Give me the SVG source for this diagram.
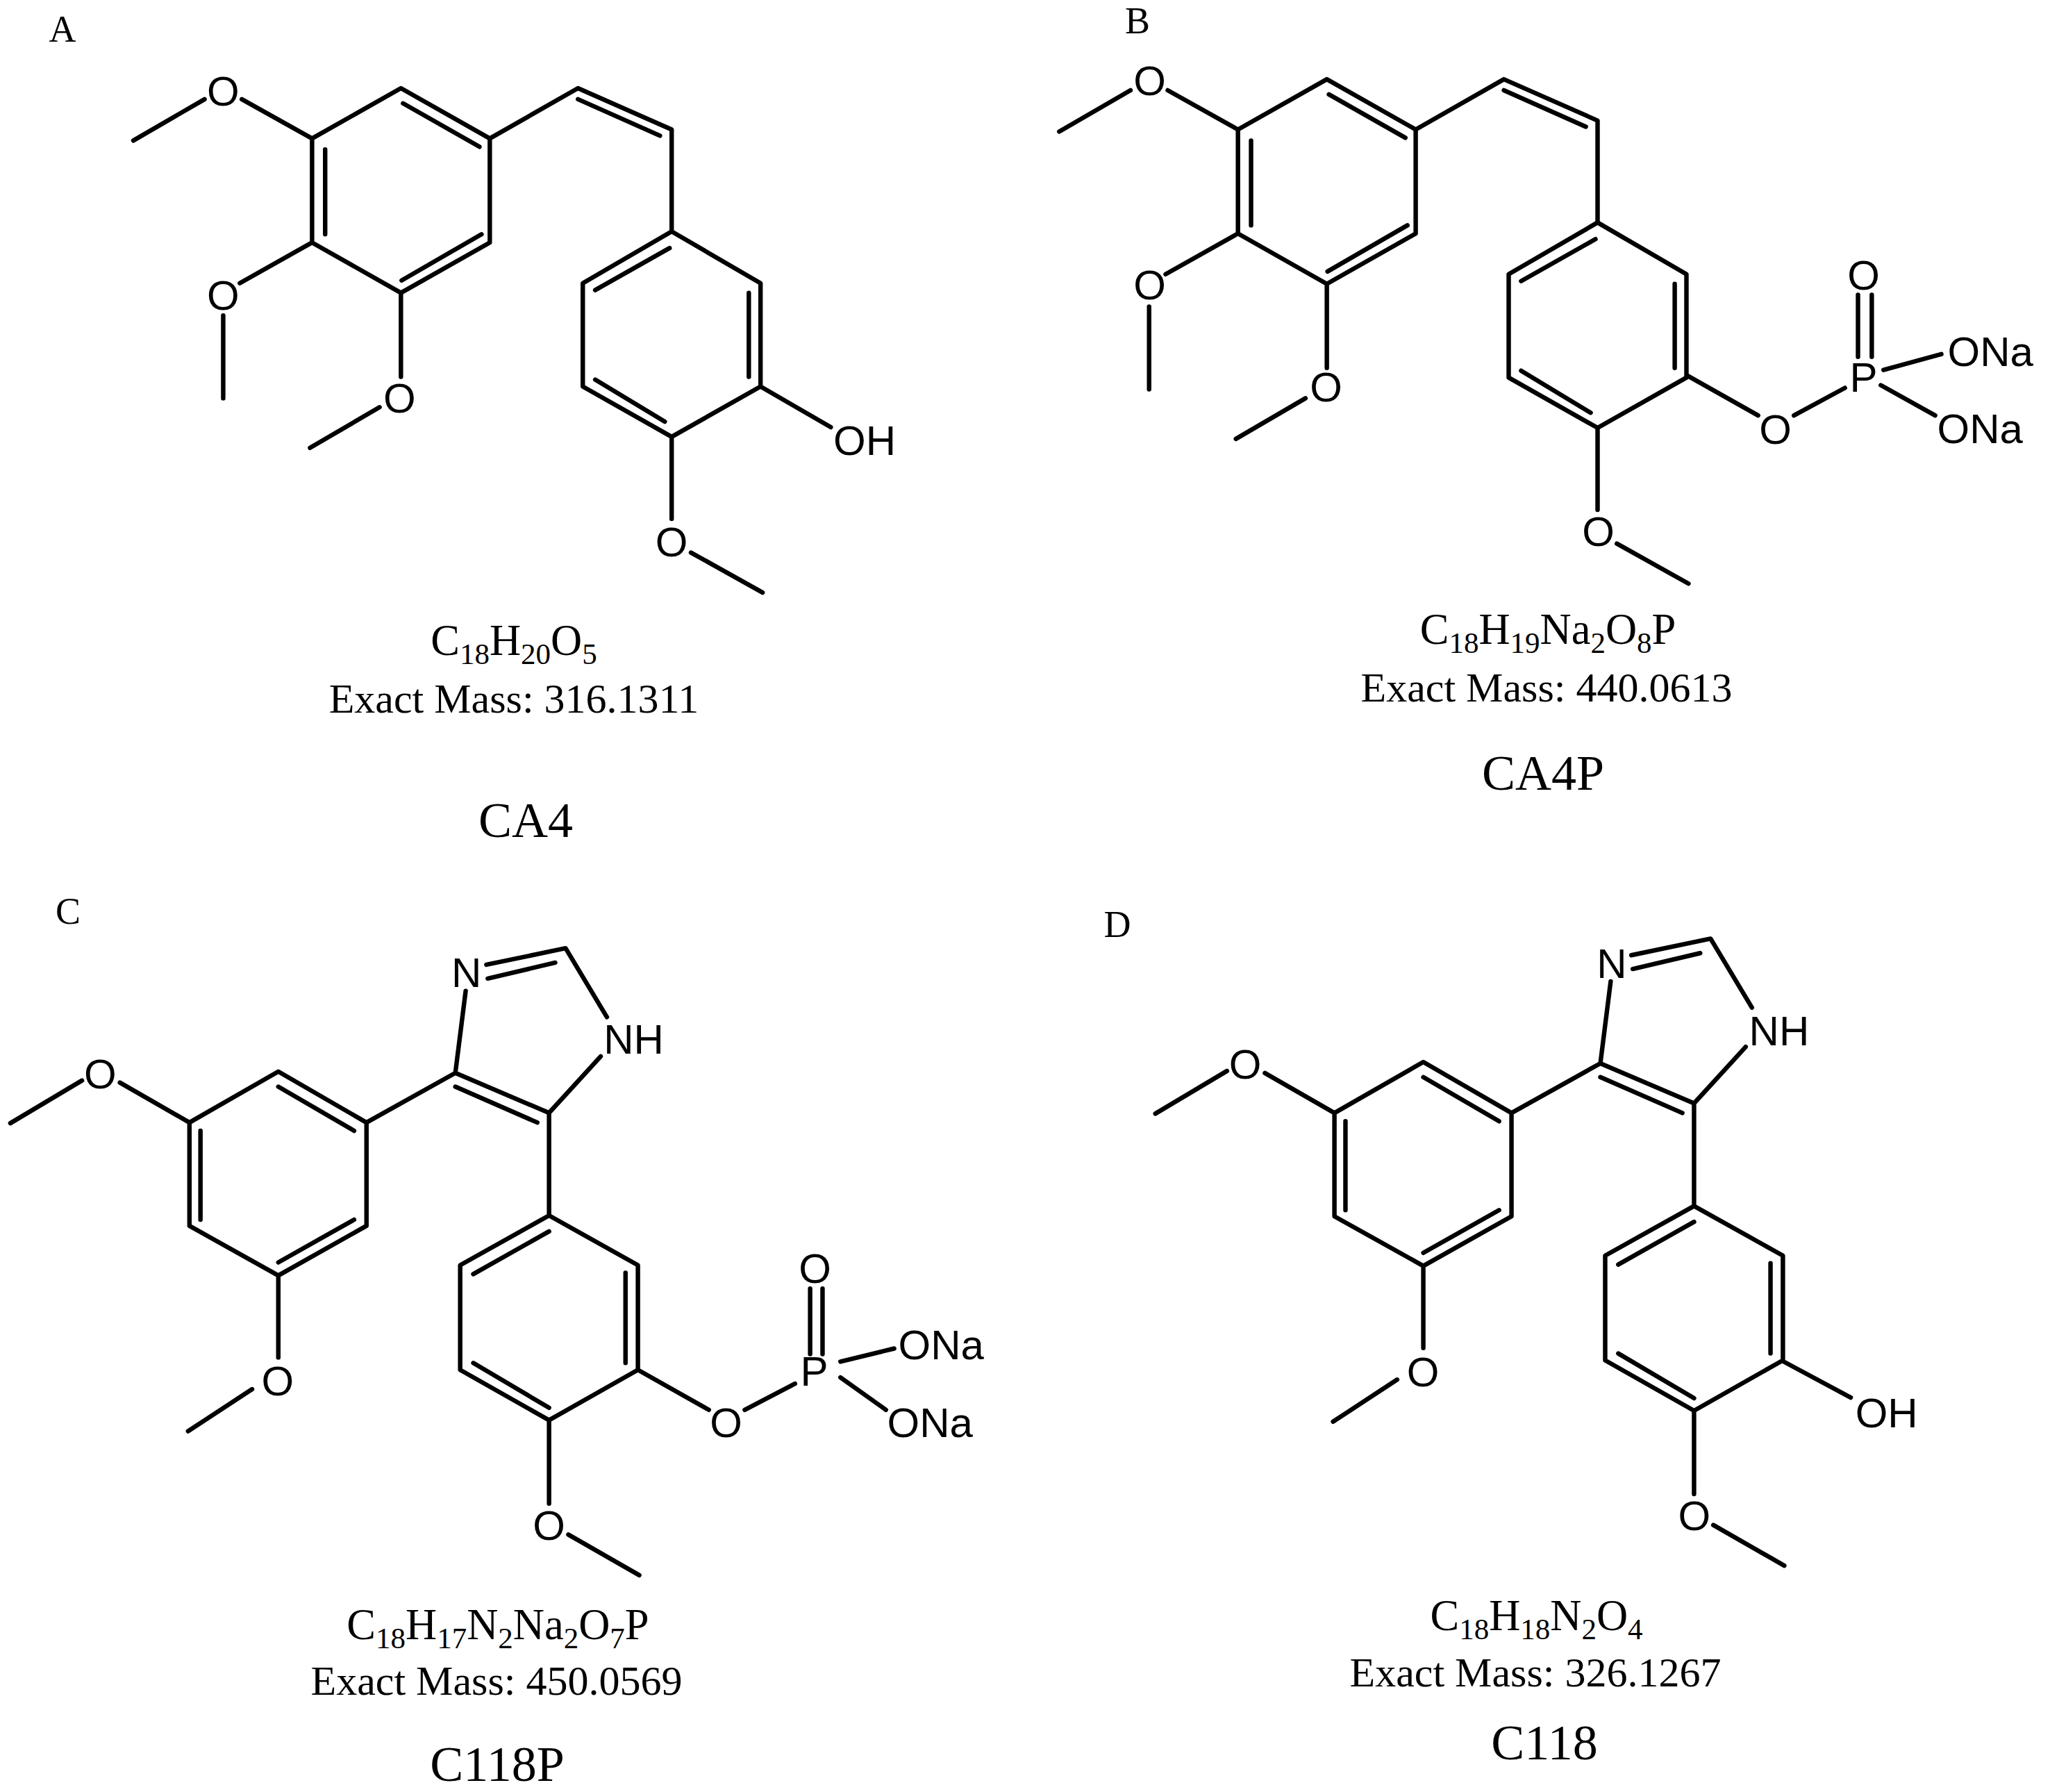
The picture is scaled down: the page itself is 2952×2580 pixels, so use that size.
<svg xmlns="http://www.w3.org/2000/svg" xmlns:xlink="http://www.w3.org/1999/xlink" width="2952" height="2580" viewBox="0 0 2952 2580">
<style>
.bond{fill:none;stroke:#000;stroke-width:6.5;stroke-linecap:round;stroke-linejoin:round}
.atom{font-family:"Liberation Sans",Arial,sans-serif;font-size:60px;fill:#000;text-anchor:middle}
.atoms{font-family:"Liberation Sans",Arial,sans-serif;font-size:60px;fill:#000;text-anchor:start}
.tag{font-family:"Liberation Serif","Times New Roman",serif;font-size:54px;fill:#000;text-anchor:middle}
.info{font-family:"Liberation Serif","Times New Roman",serif;font-size:60px;fill:#000;text-anchor:middle}
.formula{font-family:"Liberation Serif","Times New Roman",serif;font-size:62.5px;fill:#000;text-anchor:middle}
.name{font-family:"Liberation Serif","Times New Roman",serif;font-size:72px;fill:#000;text-anchor:middle}
.s{font-size:43px}
</style>
<defs>
<path id="stilbene" class="bond" d="M193.5 204L297 144M351 144L453 201L582 128L711 201L839 128L975 188L975 336L1104 411L1104 561L975 634L846 561L846 411L975 336M711 201L711 352L582 425L453 352L453 201M453 352L348 411M324 458L324 578M582 425L582 547M551 591L450 650M975 634L975 753M1003 802L1107 860M585 150L696 213M472 217L472 340M583 407L699 340M839 144L958 197M864 421L972 360M1087 425L1087 547M864 551L965 612"/>
<path id="imidazole" class="bond" d="M15 1620L119 1558M174 1561L275 1619L404 1545L532 1619L661 1547L797 1605L797 1754L926 1826L926 1978L797 2051L668 1978L668 1826L797 1754M532 1619L532 1769L404 1841L275 1769L275 1619M404 1841L404 1960M366 2006L273 2067M797 2051L797 2172M825 2217L928 2276M676 1428L661 1547M706 1390L821 1366L881 1466M872 1523L797 1605M708 1410L806 1387M661 1567L780 1619M404 1567L514 1631M291 1631L291 1760M404 1822L514 1760M687 1839L797 1777M908 1837L908 1968M687 1968L797 2033"/>
</defs>
<g id="connectors">
<use href="#stilbene" xlink:href="#stilbene" transform="scale(.992)"/>
<path class="bond" transform="scale(.992)" d="M1104 561L1206 620"/>
<use href="#stilbene" xlink:href="#stilbene" transform="translate(1333.3 -12.9) scale(.992)"/>
<path class="bond" transform="translate(12 0) scale(.992)" d="M2437 545L2540 603M2592 603L2666 563M2685 428L2685 518M2705 428L2705 518M2722 537L2806 514M2718 559L2797 603"/>
<use href="#imidazole" xlink:href="#imidazole" transform="translate(0 10.08) scale(.992)"/>
<path class="bond" transform="translate(0 10.08) scale(.992)" d="M926 1978L1029 2036M1081 2036L1154 1998M1176 1860L1176 1955M1194 1860L1194 1955M1220 1966L1298 1947M1220 1989L1286 2036"/>
<use href="#imidazole" xlink:href="#imidazole" transform="translate(1648.8 -3.65) scale(.992)"/>
<path class="bond" transform="translate(12.48 10.24) scale(.992)" d="M2575 1965L2674 2018"/>
</g>
<g id="panel-a">
<text class="tag" x="90" y="60">A</text>
<text class="atom" x="321.400" y="151.500">O</text>
<text class="atom" x="321.400" y="446">O</text>
<text class="atom" x="575.400" y="594">O</text>
<text class="atom" x="967" y="801">O</text>
<text class="atom" x="1245" y="654.500">OH</text>
<text class="formula" x="740" y="943">C<tspan class="s" dy="13">18</tspan><tspan dy="-13">H</tspan><tspan class="s" dy="13">20</tspan><tspan dy="-13">O</tspan><tspan class="s" dy="13">5</tspan></text>
<text class="info" x="740" y="1026">Exact Mass: 316.1311</text>
<text class="name" x="757" y="1205">CA4</text>
</g>
<g id="panel-b">
<text class="tag" x="1638" y="48">B</text>
<text class="atom" x="1655.700" y="136.500">O</text>
<text class="atom" x="1655.700" y="431">O</text>
<text class="atom" x="1909.700" y="578">O</text>
<text class="atom" x="2301.500" y="785.500">O</text>
<text class="atom" x="2556.500" y="638.500">O</text>
<text class="atom" x="2683.500" y="564">P</text>
<text class="atom" x="2683.500" y="417">O</text>
<text class="atoms" x="2804.500" y="526.500">ONa</text>
<text class="atoms" x="2789.500" y="638">ONa</text>
<text class="formula" x="2229" y="926.500">C<tspan class="s" dy="13">18</tspan><tspan dy="-13">H</tspan><tspan class="s" dy="13">19</tspan><tspan dy="-13">Na</tspan><tspan class="s" dy="13">2</tspan><tspan dy="-13">O</tspan><tspan class="s" dy="13">8</tspan><tspan dy="-13">P</tspan></text>
<text class="info" x="2227" y="1010">Exact Mass: 440.0613</text>
<text class="name" x="2222" y="1137">CA4P</text>
</g>
<g id="panel-c">
<text class="tag" x="98" y="1330">C</text>
<text class="atom" x="144.300" y="1567">O</text>
<text class="atom" x="399.800" y="2008.500">O</text>
<text class="atom" x="671.600" y="1420.500">N</text>
<text class="atom" x="912.600" y="1516.500">NH</text>
<text class="atom" x="790.600" y="2217">O</text>
<text class="atom" x="1045.600" y="2069">O</text>
<text class="atom" x="1172.500" y="1994.500">P</text>
<text class="atom" x="1173.500" y="1847">O</text>
<text class="atoms" x="1293.500" y="1957">ONa</text>
<text class="atoms" x="1277.500" y="2069">ONa</text>
<text class="formula" x="717" y="2360">C<tspan class="s" dy="13">18</tspan><tspan dy="-13">H</tspan><tspan class="s" dy="13">17</tspan><tspan dy="-13">N</tspan><tspan class="s" dy="13">2</tspan><tspan dy="-13">Na</tspan><tspan class="s" dy="13">2</tspan><tspan dy="-13">O</tspan><tspan class="s" dy="13">7</tspan><tspan dy="-13">P</tspan></text>
<text class="info" x="715" y="2440">Exact Mass: 450.0569</text>
<text class="name" x="716" y="2564">C118P</text>
</g>
<g id="panel-d">
<text class="tag" x="1609" y="1349">D</text>
<text class="atom" x="1793.100" y="1552.500">O</text>
<text class="atom" x="2049" y="1996">O</text>
<text class="atom" x="2320.900" y="1408">N</text>
<text class="atom" x="2561.900" y="1505">NH</text>
<text class="atom" x="2439.900" y="2203">O</text>
<text class="atom" x="2716.700" y="2055">OH</text>
<text class="formula" x="2212.500" y="2347">C<tspan class="s" dy="13">18</tspan><tspan dy="-13">H</tspan><tspan class="s" dy="13">18</tspan><tspan dy="-13">N</tspan><tspan class="s" dy="13">2</tspan><tspan dy="-13">O</tspan><tspan class="s" dy="13">4</tspan></text>
<text class="info" x="2211" y="2427.500">Exact Mass: 326.1267</text>
<text class="name" x="2224" y="2533">C118</text>
</g>
</svg>
